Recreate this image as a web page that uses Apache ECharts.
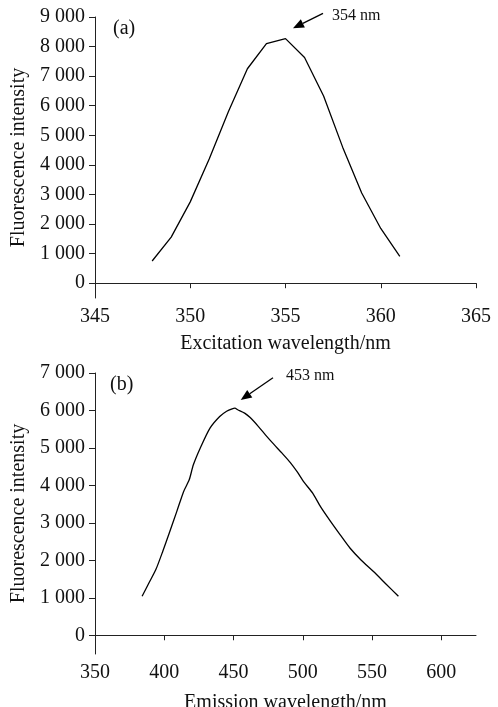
<!DOCTYPE html>
<html>
<head>
<meta charset="utf-8">
<script src="https://cdn.jsdelivr.net/npm/echarts@6/dist/echarts.min.js"></script>
<style>
  html, body { margin: 0; padding: 0; background: #fff; }
  #main { width: 498px; height: 707px; }
</style>
</head>
<body>
<div id="main"></div>
<script>
var chart = echarts.init(document.getElementById('main'));

// (a) excitation spectrum
var excWave = [348, 349, 350, 351, 352, 353, 354, 355, 356, 357, 358, 359, 360, 361];
var excInt = [750, 1560, 2750, 4210, 5800, 7250, 8100, 8270, 7630, 6330, 4600, 3050, 1850, 910];

// (b) emission spectrum
var emWave = [384, 389, 394, 399, 404, 409, 414, 418, 421, 426, 433, 440, 445, 449, 451, 453, 458, 462, 468, 473, 479, 485, 491, 496, 501, 507, 513, 520, 527, 534, 542, 551, 560, 569];
var emInt = [1040, 1400, 1760, 2250, 2770, 3300, 3840, 4150, 4550, 5000, 5530, 5840, 5980, 6045, 6060, 6020, 5930, 5810, 5570, 5350, 5100, 4860, 4610, 4360, 4080, 3800, 3420, 3040, 2680, 2330, 2010, 1700, 1370, 1040];

var yTicksA = [0, 1000, 2000, 3000, 4000, 5000, 6000, 7000, 8000, 9000];
var yTicksB = [0, 1000, 2000, 3000, 4000, 5000, 6000, 7000];
var xTicksA = [345, 350, 355, 360, 365];
var xTicksB = [350, 400, 450, 500, 550, 600];

var font = 'Liberation Serif';

function fmt(v) {
    if (v < 1000) return String(v);
    var r = String(v % 1000);
    while (r.length < 3) r = '0' + r;
    return Math.floor(v / 1000) + ' ' + r;
}

function xAxis(idx, min, max, ticks, name, gap) {
    return {
        type: 'value', gridIndex: idx, min: min, max: max,
        name: name, nameLocation: 'middle', nameGap: gap,
        nameTextStyle: {fontFamily: font, fontSize: 20, color: '#111'},
        axisLine: {lineStyle: {color: '#222', width: 1}},
        axisTick: {show: true, length: 5, customValues: ticks, lineStyle: {color: '#222'}},
        axisLabel: {customValues: ticks, fontFamily: font, fontSize: 20, color: '#111', margin: 9},
        splitLine: {show: false}
    };
}

function yAxis(idx, max, ticks) {
    return {
        type: 'value', gridIndex: idx, min: -500, max: max,
        name: 'Fluorescence intensity', nameLocation: 'middle', nameGap: 64,
        nameTextStyle: {fontFamily: font, fontSize: 20, color: '#111'},
        axisLine: {show: true, lineStyle: {color: '#222', width: 1}},
        axisTick: {show: true, length: 6, customValues: ticks, lineStyle: {color: '#222'}},
        axisLabel: {customValues: ticks, formatter: fmt, fontFamily: font, fontSize: 20, color: '#111', margin: 10},
        splitLine: {show: false}
    };
}

// arrow annotation: line plus filled head, given tail and tip in pixels
function arrow(x0, y0, x1, y1) {
    var dx = x1 - x0, dy = y1 - y0, len = Math.sqrt(dx * dx + dy * dy);
    var ux = dx / len, uy = dy / len, hl = 11, hw = 4.5;
    var bx = x1 - ux * hl, by = y1 - uy * hl;
    return [
        {type: 'line', shape: {x1: x0, y1: y0, x2: bx, y2: by}, style: {stroke: '#000', lineWidth: 1.3}},
        {type: 'polygon', shape: {points: [[x1, y1], [bx - uy * hw, by + ux * hw], [bx + uy * hw, by - ux * hw]]}, style: {fill: '#000'}}
    ];
}

function label(txt, left, top, size) {
    return {type: 'text', left: left, top: top, style: {text: txt, fontFamily: font, fontSize: size, fill: '#111'}};
}

var option = {
    animation: false,
    backgroundColor: '#fff',
    textStyle: {fontFamily: font},
    grid: [
        {left: 95, top: 17, width: 381, height: 281, outerBoundsMode: 'none'},
        {left: 95, top: 373, width: 381, height: 281, outerBoundsMode: 'none'}
    ],
    xAxis: [
        xAxis(0, 345, 365, xTicksA, 'Excitation wavelength/nm', 36),
        xAxis(1, 350, 625, xTicksB, 'Emission wavelength/nm', 39)
    ],
    yAxis: [
        yAxis(0, 9000, yTicksA),
        yAxis(1, 7000, yTicksB)
    ],
    graphic: [
        label('(a)', 113, 19, 20),
        label('(b)', 110, 375, 20),
        label('354 nm', 332, 8, 16),
        label('453 nm', 286, 368, 16)
    ].concat(arrow(323, 13.3, 293, 28.3)).concat(arrow(273, 377.7, 240.7, 400)),
    series: [
        {
            type: 'line', xAxisIndex: 0, yAxisIndex: 0,
            data: excWave.map(function (w, i) { return [w, excInt[i]]; }),
            showSymbol: false, lineStyle: {color: '#000', width: 1.3}
        },
        {
            type: 'line', xAxisIndex: 1, yAxisIndex: 1, smooth: 0.25,
            data: emWave.map(function (w, i) { return [w, emInt[i]]; }),
            showSymbol: false, lineStyle: {color: '#000', width: 1.3}
        }
    ]
};

chart.setOption(option);
</script>
</body>
</html>
